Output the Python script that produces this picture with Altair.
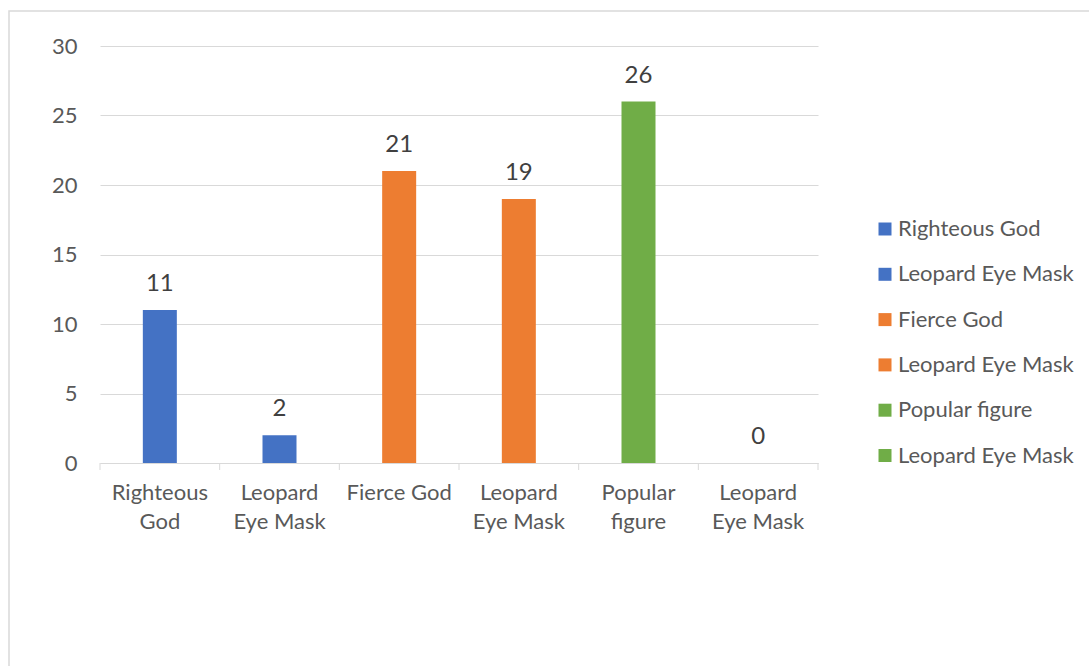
import json
import altair as alt
import pandas as pd

# ---- data ----
ids = ["c0", "c1", "c2", "c3", "c4", "c5"]
names = ["Righteous God", "Leopard Eye Mask", "Fierce God",
         "Leopard Eye Mask", "Popular figure", "Leopard Eye Mask"]
axis_lines = [["Righteous", "God"], ["Leopard", "Eye Mask"], ["Fierce God"],
              ["Leopard", "Eye Mask"], ["Popular", "figure"], ["Leopard", "Eye Mask"]]
values = [11, 2, 21, 19, 26, 0]
colors = ["#4472C4", "#4472C4", "#ED7D31", "#ED7D31", "#70AD47", "#70AD47"]
y_ticks = [0, 5, 10, 15, 20, 25, 30]

df = pd.DataFrame({"id": ids, "name": names, "value": values})

W, H = 718, 417
FONT = "Lato"
GRID = "#d9d9d9"
LABEL = "#595959"

x_label_expr = f"{json.dumps(axis_lines)}[indexof({json.dumps(ids)}, datum.value)]"
legend_label_expr = f"{json.dumps(names)}[indexof({json.dumps(ids)}, datum.value)]"

x_enc = alt.X("id:N", sort=ids,
              scale=alt.Scale(domain=ids, paddingInner=0, paddingOuter=0),
              axis=alt.Axis(title=None, labelExpr=x_label_expr, labelAngle=0,
                            ticks=False, domainColor=GRID, domainWidth=1,
                            labelColor=LABEL, labelFont=FONT, labelFontSize=22,
                            labelLineHeight=29, labelPadding=19, labelBaseline="top"))
y_enc = alt.Y("value:Q",
              scale=alt.Scale(domain=[0, 30], nice=False),
              axis=alt.Axis(title=None, values=y_ticks, ticks=False, domain=False,
                            gridColor=GRID, gridWidth=1, labelColor=LABEL,
                            labelFont=FONT, labelFontSize=22, labelPadding=23))

bars = alt.Chart(df).mark_bar(size=34).encode(
    x=x_enc, y=y_enc,
    color=alt.Color("id:N", scale=alt.Scale(domain=ids, range=colors),
                    legend=alt.Legend(title=None, orient="none", legendX=774, legendY=172,
                                      labelExpr=legend_label_expr, symbolType="square",
                                      symbolSize=169, symbolStrokeWidth=0,
                                      labelFont=FONT, labelFontSize=22, labelColor=LABEL,
                                      labelLimit=0, labelOffset=2, rowPadding=23.3,
                                      padding=0)),
)

labels = alt.Chart(df).mark_text(dy=-19, baseline="alphabetic", fontSize=24,
                                 font=FONT, color="#404040").encode(
    x=alt.X("id:N", sort=ids), y="value:Q", text="value:Q")

ticks = alt.Chart(df).mark_rule(color=GRID, strokeWidth=1).encode(
    x=alt.X("id:N", sort=ids, bandPosition=0),
    y=alt.value(H), y2=alt.value(H + 7))

one = pd.DataFrame({"a": [0]})
end_tick = alt.Chart(one).mark_rule(color=GRID, strokeWidth=1).encode(
    x=alt.value(W), y=alt.value(H), y2=alt.value(H + 7))

border = alt.Chart(one).mark_rect(fillOpacity=0, stroke=GRID, strokeWidth=1.5).encode(
    x=alt.value(-91), x2=alt.value(1000), y=alt.value(-35), y2=alt.value(640))

chart = alt.layer(border, bars, labels, ticks, end_tick).properties(
    width=W, height=H,
    background="white",
    autosize=alt.AutoSizeParams(type="none"),
    padding={"left": 100, "top": 46, "right": 1089 - 100 - W, "bottom": 666 - 46 - H},
).configure_view(stroke=None)

chart.save("out.html", embed_options={"renderer": "svg", "actions": False})
